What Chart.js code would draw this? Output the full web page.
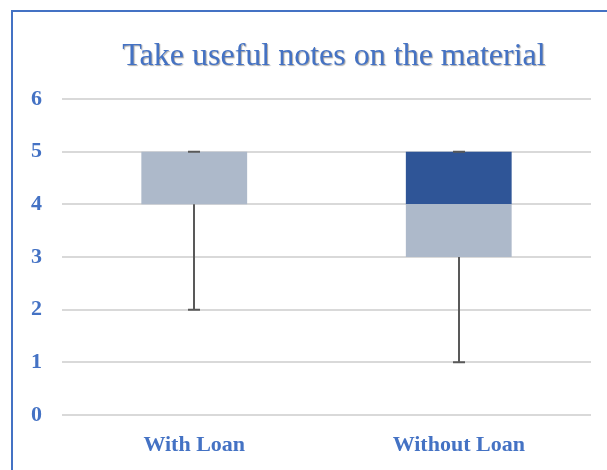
<!DOCTYPE html>
<html>
<head>
<meta charset="utf-8">
<script src="https://cdn.jsdelivr.net/npm/chart.js@4/dist/chart.umd.min.js"></script>
<style>
  html, body { margin:0; padding:0; background:#fff; overflow:hidden; }
  #wrap { position:relative; width:607px; height:470px; }
  #frame { position:absolute; left:11px; top:10px; width:700px; height:600px; border:2px solid #4472C4; box-sizing:border-box; pointer-events:none; }
  canvas { position:absolute; left:0; top:0; }
</style>
</head>
<body>
<div id="wrap">
  <canvas id="c" width="607" height="470"></canvas>
  <div id="frame"></div>
</div>
<script>
const titleText = "Take useful notes on the material";
const categories = ["With Loan", "Without Loan"];
const minimums = [2, 1];
const quartile1 = [4, 3];
const medians = [5, 4];
const quartile3 = [5, 5];
const maximums = [5, 5];
const yTicks = [0, 1, 2, 3, 4, 5, 6];

const baseSeg = quartile1.slice();
const lowerBox = medians.map((m, i) => m - quartile1[i]);
const upperBox = quartile3.map((q, i) => q - medians[i]);

const blue = "#4472C4";
const serif = "'Liberation Serif', 'Times New Roman', serif";

const titlePlugin = {
  id: 'excelTitle',
  afterDraw(chart) {
    const ctx = chart.ctx;
    ctx.save();
    ctx.font = "32px " + serif;
    ctx.textAlign = 'center';
    ctx.textBaseline = 'alphabetic';
    ctx.shadowColor = 'rgba(60,60,60,0.45)';
    ctx.shadowOffsetX = 1;
    ctx.shadowOffsetY = 1;
    ctx.shadowBlur = 1;
    ctx.fillStyle = blue;
    ctx.fillText(titleText, 334, 65);
    ctx.restore();
  }
};

const whiskerPlugin = {
  id: 'whiskers',
  afterDatasetsDraw(chart) {
    const ctx = chart.ctx;
    const xs = chart.scales.x, ys = chart.scales.y;
    ctx.save();
    ctx.strokeStyle = "#595959";
    ctx.lineWidth = 2;
    categories.forEach((c, i) => {
      const x = Math.round(xs.getPixelForValue(i));
      const cap = 6;
      const yMin = ys.getPixelForValue(minimums[i]);
      const yQ1 = ys.getPixelForValue(quartile1[i]);
      const yQ3 = ys.getPixelForValue(quartile3[i]);
      const yMax = ys.getPixelForValue(maximums[i]);
      ctx.beginPath();
      ctx.moveTo(x, yQ1); ctx.lineTo(x, yMin);
      ctx.moveTo(x - cap, yMin); ctx.lineTo(x + cap, yMin);
      ctx.moveTo(x, yQ3); ctx.lineTo(x, yMax);
      ctx.moveTo(x - cap, yMax); ctx.lineTo(x + cap, yMax);
      ctx.stroke();
    });
    ctx.restore();
  }
};

new Chart(document.getElementById('c'), {
  type: 'bar',
  data: {
    labels: categories,
    datasets: [
      { label: 'base', data: baseSeg, backgroundColor: 'rgba(0,0,0,0)', stack: 's' },
      { label: 'lower', data: lowerBox, backgroundColor: '#ADB9CA', stack: 's' },
      { label: 'upper', data: upperBox, backgroundColor: '#2F5597', stack: 's' }
    ]
  },
  options: {
    responsive: false,
    animation: false,
    devicePixelRatio: 1,
    datasets: { bar: { barPercentage: 0.4, categoryPercentage: 1.0 } },
    layout: { padding: { left: 14, right: 16, top: 99, bottom: 0 } },
    plugins: {
      legend: { display: false },
      tooltip: { enabled: false },
      title: { display: false }
    },
    scales: {
      x: {
        stacked: true,
        afterFit(axis) { axis.height = 55; },
        grid: { display: false },
        border: { display: false },
        ticks: { color: blue, font: { family: serif, size: 22, weight: 'bold' }, padding: 9 }
      },
      y: {
        stacked: true,
        min: 0, max: 6,
        afterBuildTicks(axis) { axis.ticks = yTicks.map(v => ({ value: v })); },
        afterFit(axis) { axis.width = 48; },
        grid: { color: '#D9D9D9', lineWidth: 2, drawTicks: false },
        border: { display: false },
        ticks: { color: blue, font: { family: serif, size: 22, weight: 'bold' }, padding: 20 }
      }
    }
  },
  plugins: [whiskerPlugin, titlePlugin]
});
</script>
</body>
</html>
